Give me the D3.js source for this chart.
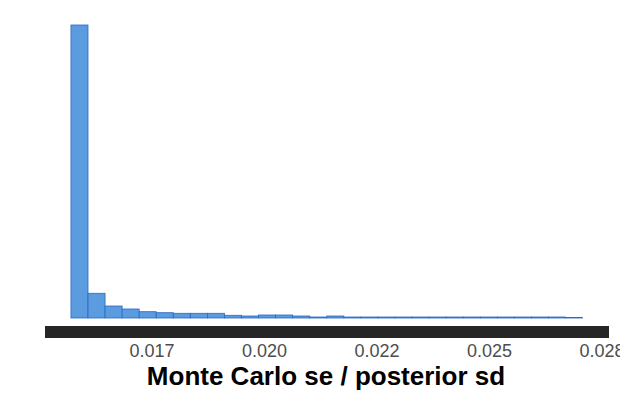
<!DOCTYPE html>
<html>
<head>
<meta charset="utf-8">
<script src="https://cdn.jsdelivr.net/npm/d3@7"></script>
<style>
  html, body { margin: 0; padding: 0; background: #fff; }
  svg { display: block; }
</style>
</head>
<body>
<svg id="chart" width="620" height="400"></svg>
<script>
// Histogram of Monte Carlo se / posterior sd
const binStart = 0.01571;
const binWidth = 0.000379;
const counts = [2930, 247, 120, 90, 63, 53, 47, 47, 47, 27,
                20, 30, 30, 20, 10, 20, 10, 10, 10, 10,
                10, 10, 10, 10, 10, 10, 10, 10, 10, 6];
const tickValues = [0.0175, 0.0200, 0.0225, 0.0250, 0.0275];
const tickLabels = ["0.017", "0.020", "0.022", "0.025", "0.028"];
const xTitle = "Monte Carlo se / posterior sd";

const bins = counts.map((c, i) => ({
  x0: binStart + i * binWidth,
  x1: binStart + (i + 1) * binWidth,
  count: c
}));

const svg = d3.select("#chart");
const x = d3.scaleLinear().domain([0.0175, 0.0275]).range([151.5, 601.5]);
const y = d3.scaleLinear().domain([0, 2930]).range([318, 25]);

// bars
svg.append("g").selectAll("rect").data(bins).join("rect")
  .attr("x", d => x(d.x0))
  .attr("width", d => x(d.x1) - x(d.x0))
  .attr("y", d => y(d.count))
  .attr("height", d => y(0) - y(d.count))
  .attr("fill", "#5b9be0")
  .attr("stroke", "#2a68c6")
  .attr("stroke-width", 0.8);

// thick axis line
svg.append("rect")
  .attr("x", 45).attr("y", 326)
  .attr("width", 564).attr("height", 12)
  .attr("fill", "#262626");

// axis ticks labels
const axis = d3.axisBottom(x)
  .tickValues(tickValues)
  .tickFormat((d, i) => tickLabels[i])
  .tickSize(0)
  .tickPadding(0);
const gAxis = svg.append("g").attr("transform", "translate(0,341)").call(axis);
gAxis.select(".domain").remove();
gAxis.selectAll("text")
  .attr("dy", "0.9em")
  .style("font-family", "'Liberation Sans', Arial, sans-serif")
  .style("font-size", "18px")
  .attr("fill", "#4d4d4d");

svg.append("text")
  .attr("x", 326).attr("y", 385)
  .attr("text-anchor", "middle")
  .style("font-family", "'Liberation Sans', Arial, sans-serif")
  .style("font-size", "26px")
  .style("font-weight", "bold")
  .attr("fill", "#000")
  .text(xTitle);
</script>
</body>
</html>
